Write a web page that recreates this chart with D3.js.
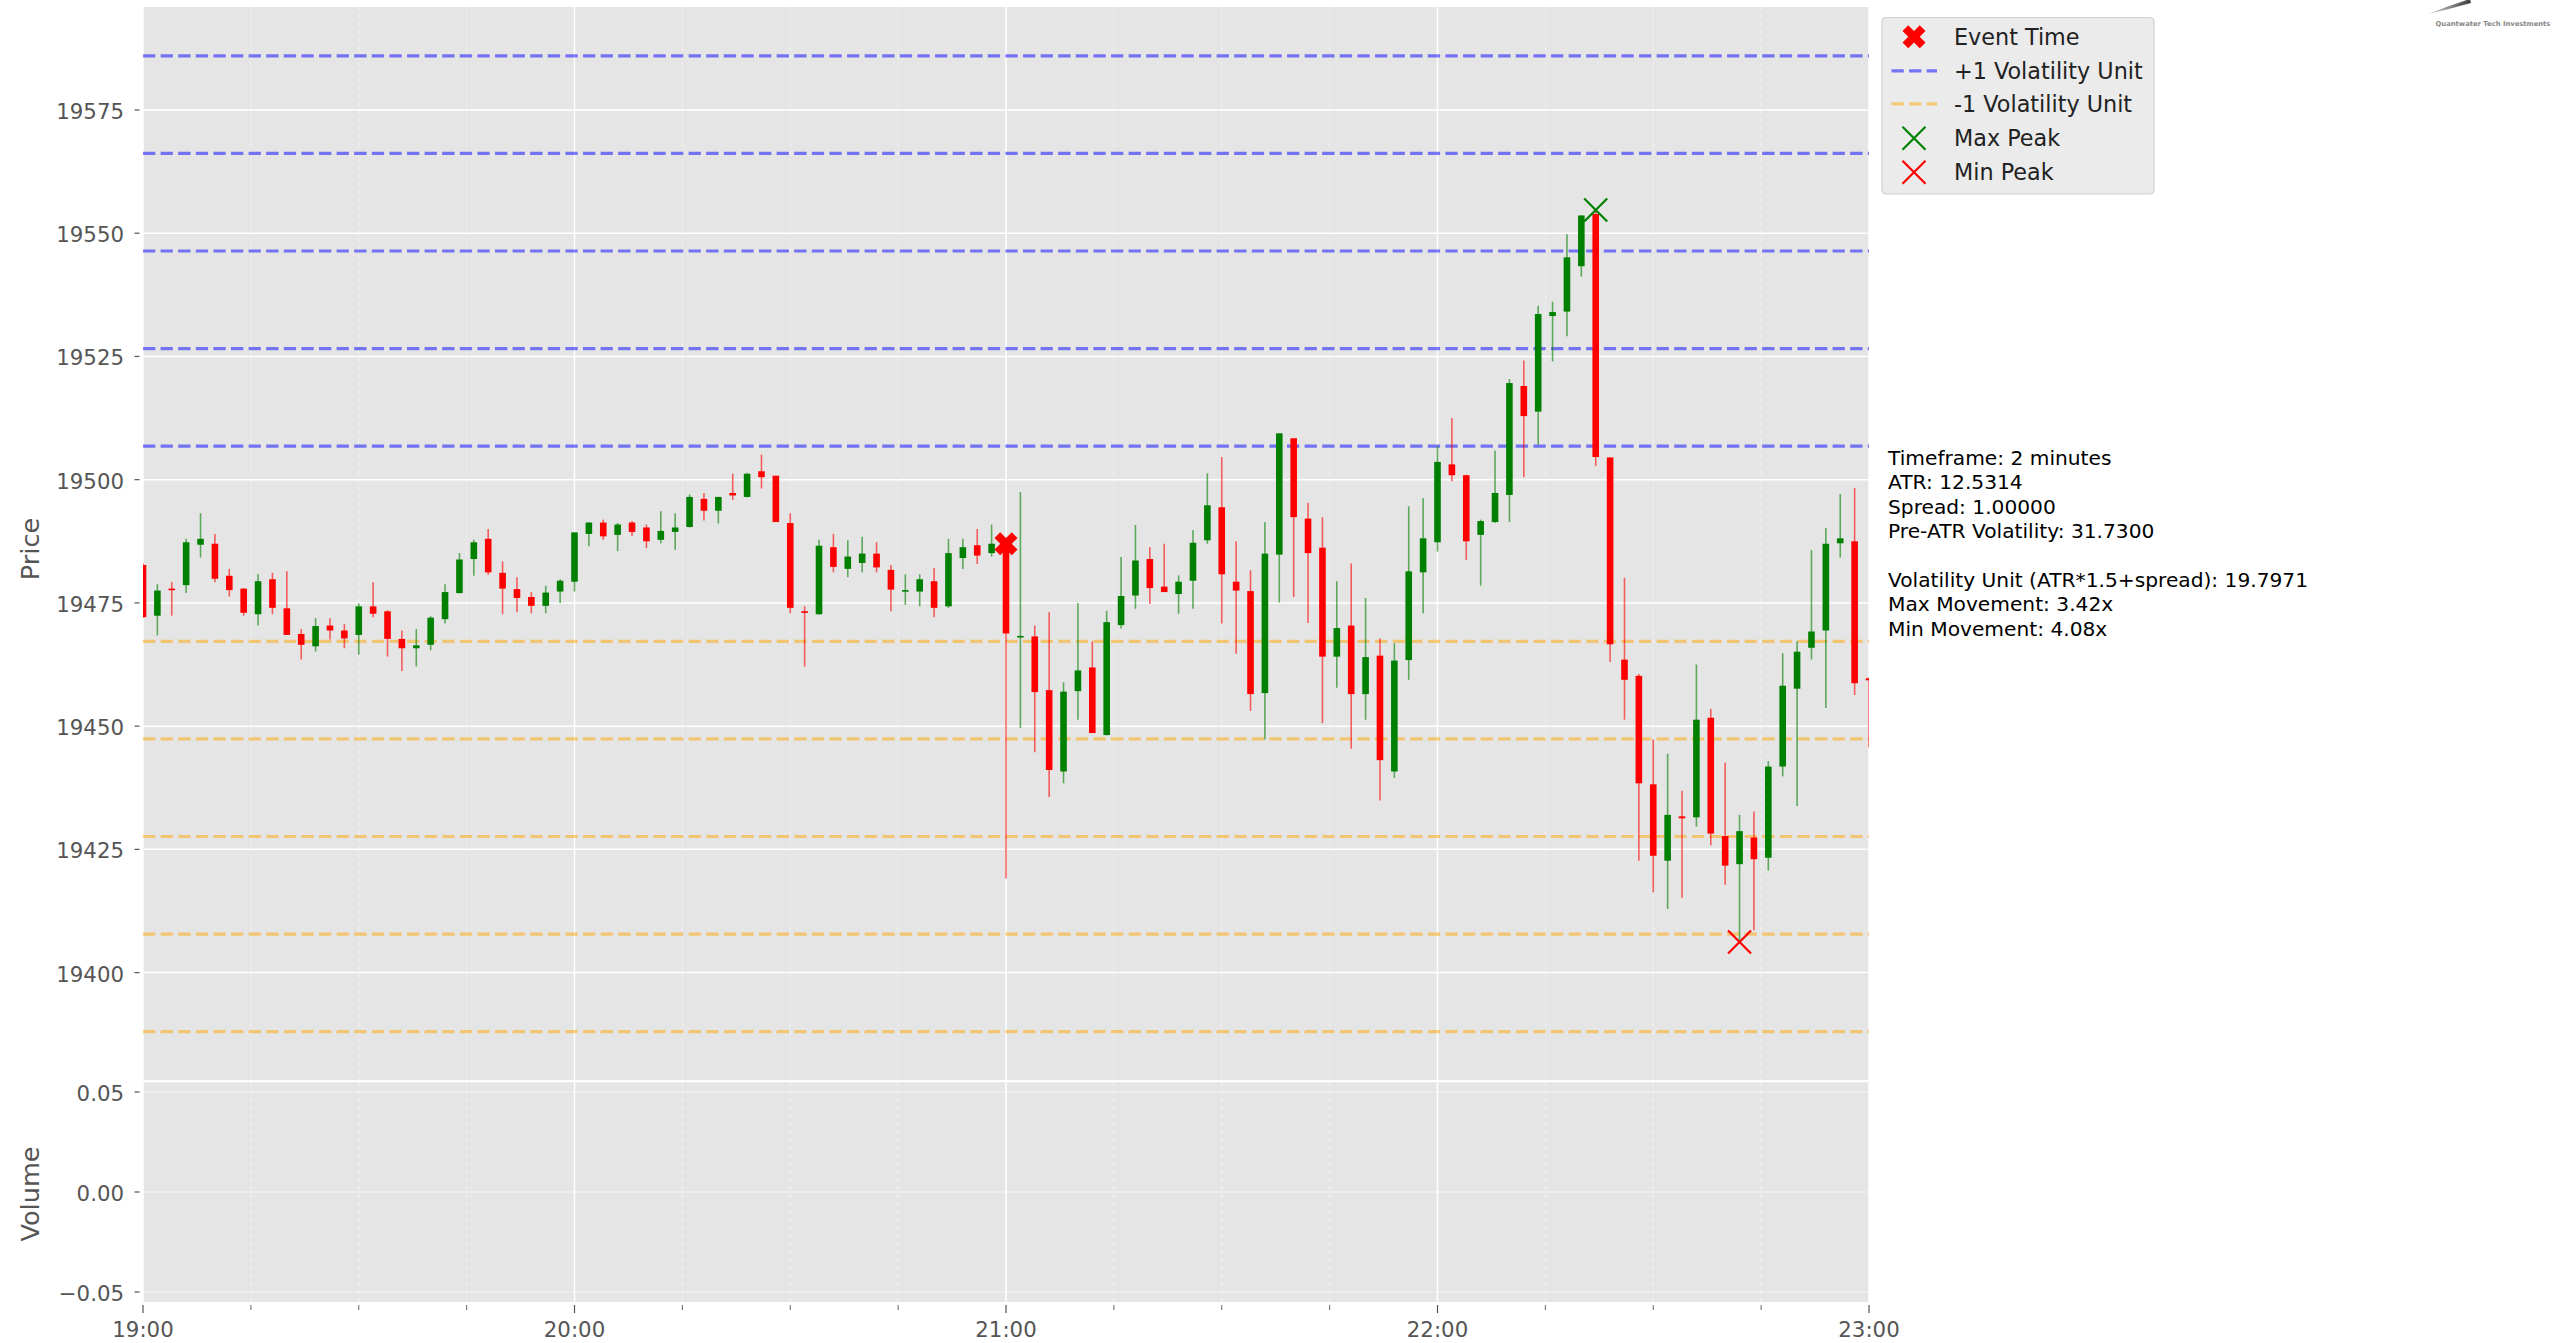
<!DOCTYPE html>
<html>
<head>
<meta charset="utf-8">
<script src="https://cdn.jsdelivr.net/npm/d3@7"></script>
<style>
  html, body { margin: 0; padding: 0; background: #ffffff; }
  svg { display: block; font-family: "DejaVu Sans", sans-serif; }
</style>
</head>
<body>
<svg id="chart" width="2554" height="1343"></svg>
<script>
// ---- 2-minute OHLC bars, 19:00 to 23:00 ----
const openPx = [
  19482.7, 19472.4, 19477.9, 19478.6, 19486.8, 19487.0, 19480.5, 19477.9, 19472.7, 19479.8,
  19473.9, 19468.7, 19466.2, 19470.4, 19469.4, 19468.5, 19474.3, 19473.3, 19467.7, 19465.8,
  19466.5, 19471.7, 19477.0, 19483.9, 19488.0, 19481.1, 19477.8, 19476.2, 19474.4, 19477.3,
  19479.3, 19489.0, 19491.3, 19488.8, 19491.3, 19490.3, 19487.8, 19489.4, 19490.4, 19496.1,
  19493.7, 19497.3, 19496.5, 19501.7, 19500.8, 19491.2, 19473.3, 19472.7, 19486.3, 19481.9,
  19483.1, 19485.0, 19481.7, 19477.5, 19477.3, 19479.4, 19474.3, 19484.1, 19486.7, 19485.1,
  19487.0, 19468.0, 19468.2, 19457.3, 19440.8, 19457.1, 19461.9, 19448.2, 19470.5, 19476.5,
  19483.9, 19478.3, 19476.8, 19479.5, 19487.7, 19494.4, 19479.3, 19477.4, 19456.7, 19484.8,
  19508.4, 19492.1, 19486.2, 19464.1, 19470.4, 19456.5, 19464.3, 19440.8, 19463.4, 19481.2,
  19487.3, 19503.1, 19500.9, 19488.8, 19491.4, 19496.9, 19519.0, 19513.8, 19533.2, 19534.1,
  19543.3, 19553.9, 19504.5, 19463.5, 19460.2, 19438.2, 19422.7, 19431.7, 19431.5, 19451.7,
  19427.7, 19422.0, 19427.4, 19423.3, 19441.8, 19457.6, 19465.9, 19469.4, 19487.1, 19487.5,
  19459.7
];
const highPx = [
  19483.0, 19478.8, 19479.2, 19488.0, 19493.2, 19489.0, 19481.9, 19477.9, 19480.8, 19481.1,
  19481.4, 19469.7, 19471.9, 19471.9, 19470.7, 19474.9, 19479.2, 19473.5, 19469.4, 19469.7,
  19472.3, 19478.8, 19485.1, 19487.8, 19490.0, 19483.4, 19480.2, 19477.2, 19478.5, 19479.8,
  19489.3, 19491.3, 19491.9, 19491.2, 19491.6, 19490.9, 19493.6, 19493.2, 19497.0, 19497.3,
  19496.5, 19501.2, 19501.4, 19505.1, 19500.8, 19493.2, 19474.3, 19487.8, 19489.0, 19487.7,
  19488.4, 19487.3, 19482.7, 19480.8, 19480.8, 19482.1, 19488.0, 19488.0, 19490.0, 19490.9,
  19488.2, 19497.5, 19470.4, 19473.1, 19458.9, 19475.0, 19467.2, 19473.4, 19484.3, 19490.8,
  19486.3, 19487.0, 19480.6, 19489.8, 19501.3, 19504.6, 19487.5, 19481.6, 19491.4, 19509.4,
  19508.4, 19495.3, 19492.4, 19479.4, 19483.0, 19476.0, 19467.8, 19466.8, 19494.6, 19496.3,
  19506.8, 19512.5, 19501.0, 19491.9, 19505.9, 19520.4, 19524.2, 19535.3, 19536.1, 19549.8,
  19553.6, 19554.7, 19504.5, 19480.1, 19460.6, 19447.3, 19444.4, 19436.9, 19462.5, 19453.5,
  19442.6, 19432.0, 19432.7, 19442.9, 19464.8, 19467.2, 19485.7, 19490.2, 19497.1, 19498.3,
  19459.9
];
const lowPx = [
  19472.0, 19468.4, 19472.4, 19477.0, 19484.2, 19479.2, 19476.3, 19472.4, 19470.4, 19472.7,
  19468.5, 19463.5, 19465.1, 19467.6, 19465.8, 19464.5, 19472.1, 19464.1, 19461.2, 19462.1,
  19465.4, 19470.8, 19476.9, 19480.5, 19480.7, 19472.7, 19473.1, 19472.9, 19472.9, 19475.0,
  19477.3, 19486.5, 19487.8, 19485.5, 19488.5, 19486.1, 19487.1, 19485.8, 19490.3, 19491.7,
  19491.1, 19495.9, 19496.4, 19498.2, 19491.4, 19472.9, 19462.1, 19472.6, 19481.2, 19480.2,
  19481.2, 19481.2, 19473.3, 19474.6, 19474.3, 19472.1, 19474.0, 19481.9, 19482.9, 19484.4,
  19419.1, 19449.6, 19444.7, 19435.6, 19438.4, 19451.3, 19448.6, 19448.1, 19469.8, 19473.8,
  19474.8, 19477.2, 19472.8, 19473.8, 19487.0, 19470.8, 19464.7, 19453.1, 19447.3, 19475.1,
  19476.2, 19470.9, 19450.6, 19457.8, 19445.4, 19451.3, 19434.9, 19439.5, 19459.4, 19472.9,
  19485.4, 19499.7, 19483.7, 19478.5, 19491.2, 19491.4, 19500.5, 19507.1, 19524.0, 19529.1,
  19541.2, 19502.8, 19463.0, 19451.3, 19422.7, 19416.3, 19412.9, 19415.2, 19429.6, 19425.8,
  19417.8, 19406.2, 19408.6, 19420.7, 19439.8, 19433.8, 19463.5, 19453.7, 19484.2, 19456.3,
  19445.7
];
const closePx = [
  19472.1, 19477.5, 19477.7, 19487.3, 19488.0, 19479.9, 19477.6, 19473.0, 19479.4, 19474.0,
  19468.5, 19466.5, 19470.3, 19469.4, 19467.8, 19474.3, 19472.8, 19467.7, 19465.8, 19466.4,
  19472.0, 19477.2, 19483.8, 19487.3, 19481.2, 19477.9, 19476.0, 19474.4, 19477.1, 19479.5,
  19489.3, 19491.3, 19488.5, 19490.9, 19489.4, 19487.5, 19489.6, 19490.3, 19496.5, 19493.7,
  19496.5, 19496.8, 19501.2, 19500.5, 19491.4, 19474.0, 19473.1, 19486.6, 19482.3, 19484.4,
  19485.0, 19482.2, 19477.7, 19477.6, 19479.8, 19474.0, 19485.1, 19486.3, 19484.6, 19487.0,
  19468.8, 19468.3, 19456.9, 19441.1, 19457.0, 19461.3, 19448.6, 19471.1, 19476.4, 19483.6,
  19478.0, 19477.2, 19479.3, 19487.2, 19494.8, 19480.8, 19477.5, 19456.5, 19485.0, 19509.4,
  19492.4, 19485.1, 19464.1, 19469.9, 19456.5, 19464.0, 19443.1, 19463.3, 19481.4, 19488.1,
  19503.6, 19500.9, 19487.5, 19491.6, 19497.3, 19519.6, 19512.9, 19533.6, 19534.0, 19545.1,
  19553.6, 19504.6, 19466.6, 19459.4, 19438.4, 19423.7, 19432.0, 19431.3, 19451.3, 19428.2,
  19421.7, 19428.7, 19423.0, 19441.8, 19458.2, 19465.1, 19469.2, 19487.0, 19488.1, 19458.7,
  19459.3
];

// ---- reference levels (event open +/- n volatility units) ----
const upperLevels = [19506.80, 19526.59, 19546.39, 19566.19, 19585.99];
const lowerLevels = [19467.20, 19447.41, 19427.61, 19407.81, 19388.01];

// ---- event and extreme markers ----
const eventBar = 60;          // 21:00 bar
const eventPrice = 19487.0;
const maxPeakBar = 101;
const maxPeakPrice = 19554.7;
const minPeakBar = 111;
const minPeakPrice = 19406.2;

// ---- axes ticks and labels ----
const priceTicks = [19400, 19425, 19450, 19475, 19500, 19525, 19550, 19575];
const volumeTicks = [-0.05, 0.00, 0.05];
const hourTicks = ["19:00", "20:00", "21:00", "22:00", "23:00"];
const legendLabels = ["Event Time", "+1 Volatility Unit", "-1 Volatility Unit", "Max Peak", "Min Peak"];
const statLines = [
  "Timeframe: 2 minutes",
  "ATR: 12.5314",
  "Spread: 1.00000",
  "Pre-ATR Volatility: 31.7300",
  "",
  "Volatility Unit (ATR*1.5+spread): 19.7971",
  "Max Movement: 3.42x",
  "Min Movement: 4.08x"
];

// ---------------------------------------------------------------
const svg = d3.select("#chart");
const BG = "#e5e5e5";
const TICK_COLOR = "#555555";

const day = (h, m) => new Date(2024, 0, 1, h, m, 0);
const t0 = day(19, 0), t1 = day(23, 0);
const barTime = i => d3.timeMinute.offset(t0, 2 * i);

const plot = { left: 143, right: 1869 };
const pricePanel = { top: 7, bottom: 1080.5 };
const volPanel = { top: 1082, bottom: 1302 };

const x = d3.scaleTime().domain([t0, t1]).range([plot.left, plot.right]);

// price axis limits: level extent with 5% padding
const lvlExtent = d3.extent(upperLevels.concat(lowerLevels));
const pad = (lvlExtent[1] - lvlExtent[0]) * 0.05;
const y = d3.scaleLinear()
  .domain([lvlExtent[0] - pad, lvlExtent[1] + pad])
  .range([pricePanel.bottom, pricePanel.top]);
const yv = d3.scaleLinear().domain([-0.055, 0.055]).range([volPanel.bottom, volPanel.top]);

// panel backgrounds
svg.append("rect").attr("x", plot.left).attr("y", pricePanel.top)
  .attr("width", plot.right - plot.left).attr("height", pricePanel.bottom - pricePanel.top)
  .attr("fill", BG);
svg.append("rect").attr("x", plot.left).attr("y", volPanel.top)
  .attr("width", plot.right - plot.left).attr("height", volPanel.bottom - volPanel.top)
  .attr("fill", BG);

const defs = svg.append("defs");
defs.append("clipPath").attr("id", "clipPrice").append("rect")
  .attr("x", plot.left).attr("y", pricePanel.top)
  .attr("width", plot.right - plot.left).attr("height", pricePanel.bottom - pricePanel.top);

// vertical grid (hours solid, quarter hours dashed) in both panels
const quarterTicks = x.ticks(d3.timeMinute.every(15));
function vGrid(top, bottom) {
  const g = svg.append("g");
  quarterTicks.forEach(t => {
    const major = t.getMinutes() === 0;
    g.append("line")
      .attr("x1", x(t)).attr("x2", x(t)).attr("y1", top).attr("y2", bottom)
      .attr("stroke", "#ffffff")
      .attr("stroke-width", major ? 1.5 : 1)
      .attr("stroke-opacity", major ? 1 : 0.55)
      .attr("stroke-dasharray", major ? null : "4,4");
  });
}
vGrid(pricePanel.top, pricePanel.bottom);
vGrid(volPanel.top, volPanel.bottom);

// horizontal grid
svg.append("g").selectAll("line").data(priceTicks).join("line")
  .attr("x1", plot.left).attr("x2", plot.right)
  .attr("y1", d => y(d)).attr("y2", d => y(d))
  .attr("stroke", "#ffffff").attr("stroke-width", 1.5);
svg.append("g").selectAll("line").data(volumeTicks).join("line")
  .attr("x1", plot.left).attr("x2", plot.right)
  .attr("y1", d => yv(d)).attr("y2", d => yv(d))
  .attr("stroke", "#ffffff").attr("stroke-width", 1.2).attr("stroke-opacity", 0.6);

// panel separator
svg.append("line").attr("x1", plot.left).attr("x2", plot.right)
  .attr("y1", 1081.2).attr("y2", 1081.2).attr("stroke", "#ffffff").attr("stroke-width", 2);

// volatility unit levels
const dash = "12.3,5.3";
const priceG = svg.append("g").attr("clip-path", "url(#clipPrice)");
priceG.append("g").selectAll("line").data(upperLevels).join("line")
  .attr("x1", plot.left).attr("x2", plot.right)
  .attr("y1", d => y(d)).attr("y2", d => y(d))
  .attr("stroke", "blue").attr("stroke-opacity", 0.5)
  .attr("stroke-width", 3.2).attr("stroke-dasharray", dash);
priceG.append("g").selectAll("line").data(lowerLevels).join("line")
  .attr("x1", plot.left).attr("x2", plot.right)
  .attr("y1", d => y(d)).attr("y2", d => y(d))
  .attr("stroke", "orange").attr("stroke-opacity", 0.5)
  .attr("stroke-width", 3.2).attr("stroke-dasharray", dash);

// candles
const bars = d3.range(openPx.length).map(i => ({
  t: barTime(i), o: openPx[i], h: highPx[i], l: lowPx[i], c: closePx[i]
}));
const colorOf = d => d.c >= d.o ? "green" : "red";
const bodyW = 6.6;

priceG.append("g").selectAll("line").data(bars).join("line")
  .attr("x1", d => x(d.t)).attr("x2", d => x(d.t))
  .attr("y1", d => y(d.h)).attr("y2", d => y(d.l))
  .attr("stroke", colorOf).attr("stroke-opacity", 0.6).attr("stroke-width", 1.6);

priceG.append("g").selectAll("rect").data(bars).join("rect")
  .attr("x", d => x(d.t) - bodyW / 2)
  .attr("width", bodyW)
  .attr("y", d => y(Math.max(d.o, d.c)))
  .attr("height", d => Math.max(1.6, Math.abs(y(d.o) - y(d.c))))
  .attr("fill", colorOf);

// marker shapes
function filledX(cx, cy, half, color, parent) {
  const u = half / 2;
  const pts = [[-1,-2],[0,-1],[1,-2],[2,-1],[1,0],[2,1],[1,2],[0,1],[-1,2],[-2,1],[-1,0],[-2,-1]];
  parent.append("path")
    .attr("d", "M" + pts.map(p => [cx + p[0] * u, cy + p[1] * u].join(",")).join("L") + "Z")
    .attr("fill", color);
}
function lineX(cx, cy, half, color, parent) {
  parent.append("path")
    .attr("d", `M${cx - half},${cy - half}L${cx + half},${cy + half}M${cx - half},${cy + half}L${cx + half},${cy - half}`)
    .attr("stroke", color).attr("stroke-width", 2.2).attr("fill", "none");
}
const markG = svg.append("g");
filledX(x(barTime(eventBar)), y(eventPrice), 11.5, "red", markG);
lineX(x(barTime(maxPeakBar)), y(maxPeakPrice), 11.5, "green", markG);
lineX(x(barTime(minPeakBar)), y(minPeakPrice), 11.5, "red", markG);

// y axes
function leftAxis(scale, ticks, fmt) {
  const g = svg.append("g");
  ticks.forEach(v => {
    const yy = scale(v);
    g.append("line").attr("x1", 134.5).attr("x2", 139.5).attr("y1", yy).attr("y2", yy)
      .attr("stroke", TICK_COLOR).attr("stroke-width", 1.2);
    g.append("text").attr("x", 124).attr("y", yy).attr("dy", "0.42em")
      .attr("text-anchor", "end").attr("font-size", 21.3).attr("fill", TICK_COLOR)
      .text(fmt(v));
  });
}
leftAxis(y, priceTicks, d3.format("d"));
leftAxis(yv, volumeTicks, v => d3.format(".2f")(v).replace("-", "\u2212"));

// x axis
const xg = svg.append("g");
quarterTicks.forEach(t => {
  const major = t.getMinutes() === 0;
  xg.append("line").attr("x1", x(t)).attr("x2", x(t))
    .attr("y1", 1305).attr("y2", major ? 1313 : 1310)
    .attr("stroke", TICK_COLOR).attr("stroke-width", major ? 1.2 : 0.9);
});
hourTicks.forEach(lbl => {
  const [hh, mm] = lbl.split(":").map(Number);
  xg.append("text").attr("x", x(day(hh, mm))).attr("y", 1337)
    .attr("text-anchor", "middle").attr("font-size", 21.3).attr("fill", TICK_COLOR)
    .text(lbl);
});

// axis titles
svg.append("text").attr("transform", "translate(39,549) rotate(-90)")
  .attr("text-anchor", "middle").attr("font-size", 25.6).attr("fill", TICK_COLOR).text("Price");
svg.append("text").attr("transform", "translate(39,1194) rotate(-90)")
  .attr("text-anchor", "middle").attr("font-size", 25.6).attr("fill", TICK_COLOR).text("Volume");

// legend
const lg = svg.append("g");
lg.append("rect").attr("x", 1882).attr("y", 17.5).attr("width", 272).attr("height", 176.5)
  .attr("rx", 4).attr("fill", "#ebebeb").attr("stroke", "#d0d0d0").attr("stroke-width", 1.2);
const rowY = [36.7, 70.8, 103.8, 138.3, 172.3];
filledX(1914, rowY[0], 11.5, "red", lg);
lg.append("line").attr("x1", 1891.5).attr("x2", 1937).attr("y1", rowY[1]).attr("y2", rowY[1])
  .attr("stroke", "blue").attr("stroke-opacity", 0.5).attr("stroke-width", 3.2).attr("stroke-dasharray", dash);
lg.append("line").attr("x1", 1891.5).attr("x2", 1937).attr("y1", rowY[2]).attr("y2", rowY[2])
  .attr("stroke", "orange").attr("stroke-opacity", 0.5).attr("stroke-width", 3.2).attr("stroke-dasharray", dash);
lineX(1914, rowY[3], 11.5, "green", lg);
lineX(1914, rowY[4], 11.5, "red", lg);
legendLabels.forEach((lbl, i) => {
  lg.append("text").attr("x", 1954).attr("y", rowY[i]).attr("dy", "0.36em")
    .attr("font-size", 22.3).attr("fill", "#222").text(lbl);
});

// stats block
const sg = svg.append("g");
statLines.forEach((line, i) => {
  sg.append("text").attr("x", 1888).attr("y", 465 + i * 24.4)
    .attr("font-size", 20.2).attr("fill", "#000").text(line);
});

// brand mark, top right
const brand = svg.append("g");
const grad = defs.append("linearGradient").attr("id", "swoosh")
  .attr("x1", "0%").attr("x2", "100%").attr("y1", "0%").attr("y2", "0%");
grad.append("stop").attr("offset", "0%").attr("stop-color", "#d8d8d8");
grad.append("stop").attr("offset", "100%").attr("stop-color", "#3a3a3a");
brand.append("path")
  .attr("d", "M2428,14 Q2448,6 2470,-1 L2471,3 Q2450,9 2428,14 Z")
  .attr("fill", "url(#swoosh)");
brand.append("text").attr("x", 2493).attr("y", 25.5).attr("text-anchor", "middle")
  .attr("font-size", 6.8).attr("font-weight", "bold").attr("fill", "#888").text("Quantwater Tech Investments");
</script>
</body>
</html>
